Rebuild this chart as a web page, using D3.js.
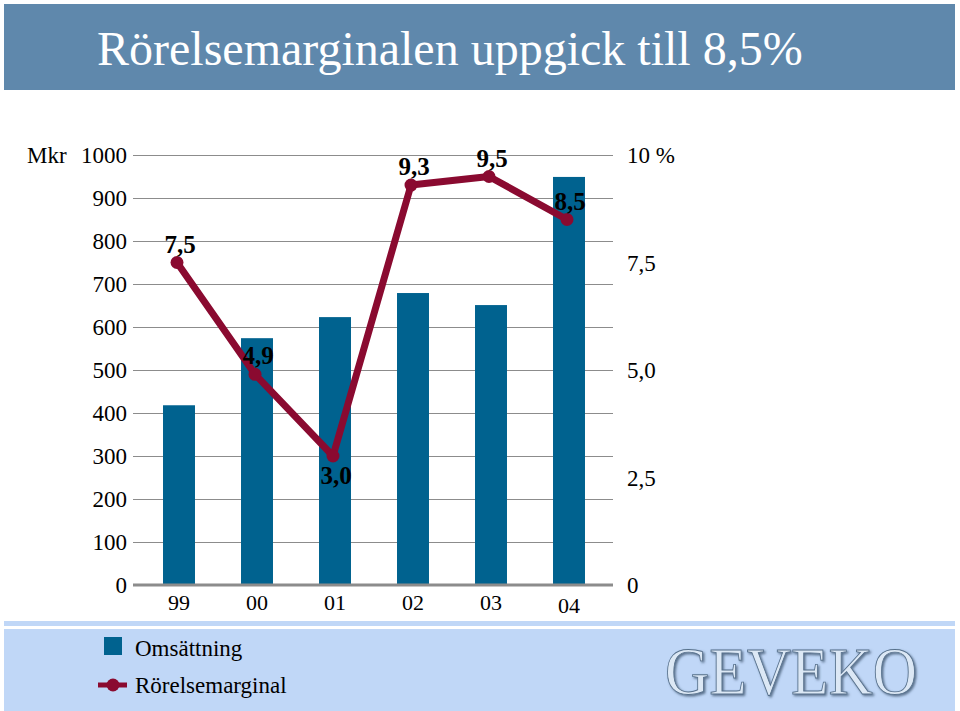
<!DOCTYPE html>
<html><head><meta charset="utf-8">
<script src="https://cdn.jsdelivr.net/npm/d3@7"></script>
<style>
html,body{margin:0;padding:0;background:#fff;}
svg{display:block;}
svg text{font-family:"Liberation Serif","Times New Roman",Times,serif !important;}
</style></head>
<body><svg id="c" width="960" height="711"></svg>
<script>
const title = "Rörelsemarginalen uppgick till 8,5%";
const years = ["99","00","01","02","03","04"];
const omsattning = [418, 574, 623, 679, 651, 949];
const marginal = [7.5, 4.9, 3.0, 9.3, 9.5, 8.5];
const marginalLabels = ["7,5","4,9","3,0","9,3","9,5","8,5"];
const leftTicks = [0,100,200,300,400,500,600,700,800,900,1000];
const rightTicks = [0,2.5,5,7.5,10];
const rightTickLabels = ["0","2,5","5,0","7,5","10 %"];
const legendNames = ["Omsättning","Rörelsemarginal"];

const barColor = "#00628f", lineColor = "#8a0a30", gridColor = "#8c8c8c";
const svg = d3.select("#c");

const defs = svg.append("defs");
const f = defs.append("filter").attr("id","sh").attr("x","-10%").attr("y","-20%").attr("width","130%").attr("height","150%");
f.append("feDropShadow").attr("dx",1.5).attr("dy",1.5).attr("stdDeviation",0.8).attr("flood-color","#3e5670").attr("flood-opacity",0.8);

// title band
svg.append("rect").attr("x",4).attr("y",4).attr("width",951).attr("height",86).attr("fill","#5f88ac");
svg.append("text").attr("x",97).attr("y",65).attr("fill","#fff").attr("font-size",48).text(title);

// bottom area
svg.append("rect").attr("x",4).attr("y",621).attr("width",951).attr("height",5).attr("fill","#c0d7f7");
svg.append("rect").attr("x",4).attr("y",629).attr("width",951).attr("height",82).attr("fill","#c0d7f7");

const y = d3.scaleLinear().domain([0,1000]).range([585,155]);
const y2 = d3.scaleLinear().domain([0,10]).range([585,155]);
const x = d3.scaleBand().domain(years).range([140,608]).paddingInner(0.59).paddingOuter(0.295);
const gx0 = 133, gx1 = 613;

// gridlines
svg.append("g").selectAll("line").data(leftTicks.filter(d=>d>0)).join("line")
  .attr("x1",gx0).attr("x2",gx1).attr("y1",d=>Math.round(y(d))+0.5).attr("y2",d=>Math.round(y(d))+0.5)
  .attr("stroke",gridColor).attr("stroke-width",1);

// left axis labels
const leftAxis = d3.axisLeft(y).tickValues(leftTicks).tickSize(0).tickPadding(0).tickFormat(d3.format("d"));
const la = svg.append("g").attr("transform","translate(127,0)").call(leftAxis);
la.select(".domain").remove();
la.selectAll("text").attr("font-size",23).attr("fill","#000").attr("dy","0.33em");
svg.append("text").attr("x",27).attr("y",y(1000)).attr("dy","0.33em").attr("font-size",23).text("Mkr");

// right axis labels
const rightAxis = d3.axisRight(y2).tickValues(rightTicks).tickSize(0).tickPadding(0).tickFormat((d,i)=>rightTickLabels[i]);
const ra = svg.append("g").attr("transform","translate(627,0)").call(rightAxis);
ra.select(".domain").remove();
ra.selectAll("text").attr("font-size",23).attr("fill","#000").attr("dy","0.33em");

// bars
svg.append("g").selectAll("rect").data(omsattning).join("rect")
  .attr("x",(d,i)=>x(years[i])).attr("width",x.bandwidth())
  .attr("y",d=>y(d)).attr("height",d=>y(0)-y(d)).attr("fill",barColor);

// baseline
svg.append("line").attr("x1",gx0).attr("x2",gx1).attr("y1",y(0)).attr("y2",y(0)).attr("stroke","#8c8c8c").attr("stroke-width",3);

// x labels
const xa = svg.append("g").attr("transform","translate(0,592)").call(d3.axisBottom(x).tickSize(0).tickPadding(0));
xa.select(".domain").remove();
xa.selectAll("text").attr("font-size",22).attr("fill","#000").attr("dy","0.8em")
  .attr("transform",(d)=> d==="04" ? "translate(0,3)" : null);

// line
const lx = i => x(years[i]) + x.bandwidth()/2 - 2;
const line = d3.line().x((d,i)=>lx(i)).y(d=>y2(d));
svg.append("path").datum(marginal).attr("d",line).attr("fill","none")
  .attr("stroke",lineColor).attr("stroke-width",7).attr("stroke-linejoin","round");
svg.append("g").selectAll("circle").data(marginal).join("circle")
  .attr("cx",(d,i)=>lx(i)).attr("cy",d=>y2(d)).attr("r",6.5).attr("fill",lineColor);

// value labels
svg.append("g").selectAll("text").data(marginal).join("text")
  .attr("x",(d,i)=>lx(i)+3).attr("y",(d,i)=> i===2 ? y2(d)+28 : y2(d)-10)
  .attr("text-anchor","middle").attr("font-size",25).attr("font-weight","bold").attr("fill","#000")
  .text((d,i)=>marginalLabels[i]);

// legend
svg.append("rect").attr("x",104).attr("y",637).attr("width",18).attr("height",18).attr("fill",barColor);
svg.append("text").attr("x",135).attr("y",656).attr("font-size",23).text(legendNames[0]);
svg.append("line").attr("x1",98).attr("x2",127).attr("y1",685).attr("y2",685).attr("stroke",lineColor).attr("stroke-width",5);
svg.append("circle").attr("cx",113).attr("cy",685).attr("r",6.5).attr("fill",lineColor);
svg.append("text").attr("x",135).attr("y",693).attr("font-size",23).text(legendNames[1]);

// logo
svg.append("text").attr("x",665).attr("y",694).attr("font-size",68).attr("textLength",252).attr("lengthAdjust","spacingAndGlyphs")
  .attr("fill","#dce8f5").attr("stroke","#56708c").attr("stroke-width",0.9).attr("filter","url(#sh)").text("GEVEKO");
</script></body></html>
